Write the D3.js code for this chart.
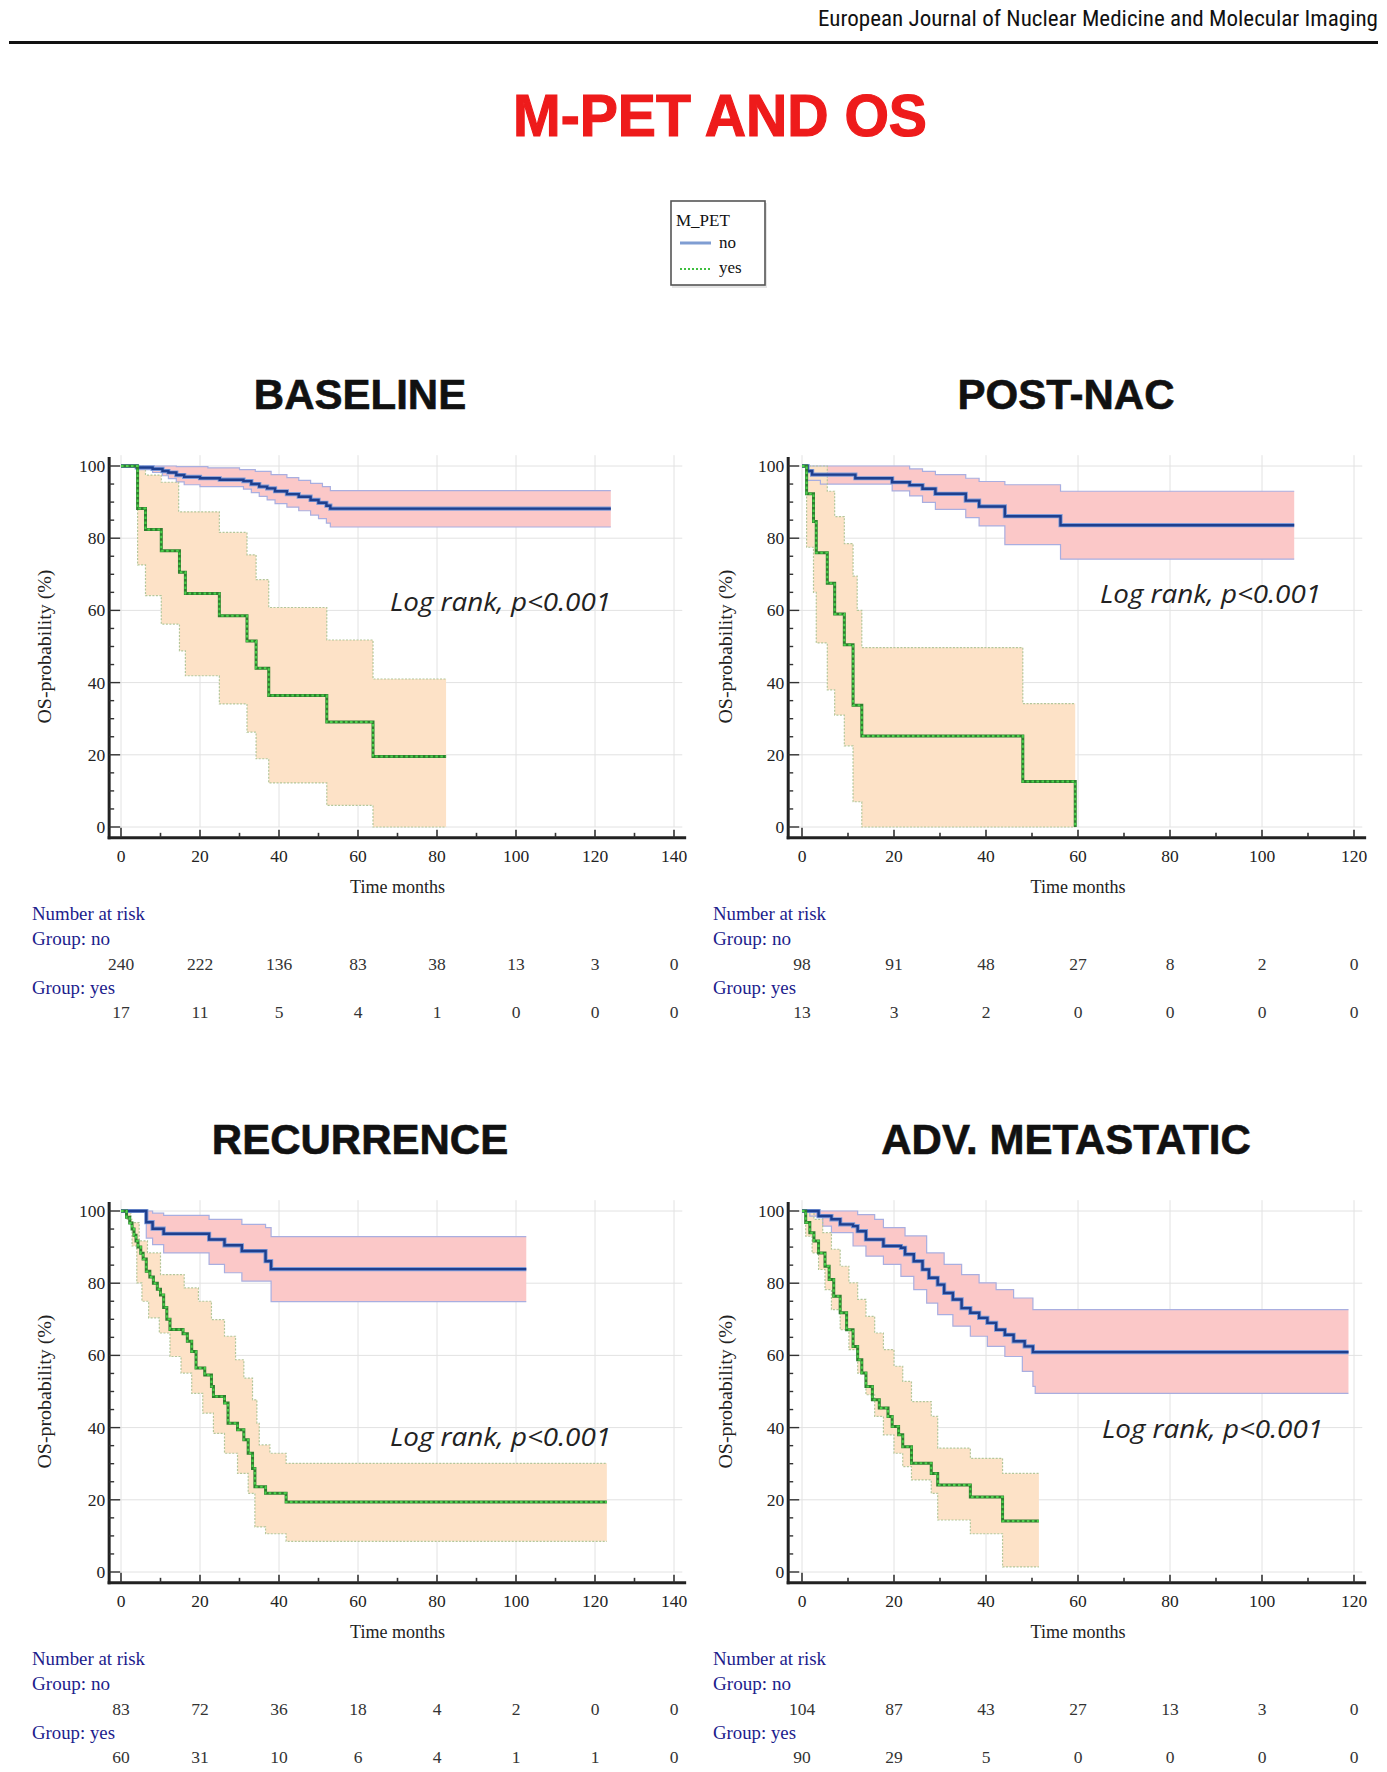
<!DOCTYPE html>
<html><head><meta charset="utf-8">
<script src="https://cdn.jsdelivr.net/npm/d3@7"></script>
<style>body{margin:0;background:#fff} svg{display:block}</style>
</head><body>
<svg id="c" width="1387" height="1772"></svg>
<script>
// ---------------- DATA ----------------
const panelTitles = ["BASELINE", "POST-NAC", "RECURRENCE", "ADV. METASTATIC"];
const xTicksWide = [0, 20, 40, 60, 80, 100, 120, 140];
const xTicksNarrow = [0, 20, 40, 60, 80, 100, 120];
const yTicks = [0, 20, 40, 60, 80, 100];
const groupNames = ["no", "yes"];

// Kaplan-Meier steps: [months, OS %]
const baselineNo = [[0,100],[4,99.6],[8,99.2],[10.5,98.6],[12,98.2],[14,97.5],[16,97],[20,96.6],[25,96.2],[31,95.8],[33,95],[35,94.3],[37,93.8],[39,93],[42,92.2],[45,91.5],[48,90.6],[50,89.8],[52,89],[53,88.2],[124,88.2]];
const baselineNoUpper = [[0,100],[14,99.8],[22,99.5],[30,99],[34,98.5],[38,97.6],[42,96.8],[45,96],[48,95.2],[51,94.3],[53,93.2],[124,93.2]];
const baselineNoLower = [[0,100],[4,99],[8,98.2],[10.5,97.3],[12,96.5],[14,95.6],[16,94.8],[20,94.3],[31,93.6],[33,92.6],[35,91.6],[37,90.6],[39,89.6],[42,88.6],[45,87.6],[48,86.4],[50,85.4],[52,84.2],[53,83.1],[124,83.1]];
const baselineYes = [[0,100],[4.2,88.2],[6.2,82.4],[10.2,76.5],[14.8,70.6],[16.3,64.7],[24.9,58.5],[31.9,51.5],[34.2,44],[37.4,36.4],[52.1,29.1],[63.8,19.5],[82.3,19.5]];
const baselineYesUpper = [[0,100],[6.2,97.5],[10.2,95.5],[14.6,87.3],[24.9,81.6],[31.9,75.4],[34.2,68.5],[37.4,60.8],[52.1,51.8],[63.8,41],[82.3,41]];
const baselineYesLower = [[0,100],[4.2,72.6],[6.2,64.1],[10.2,56.2],[14.8,48.8],[16.3,41.9],[24.9,34.1],[31.9,26.3],[34.2,18.9],[37.4,12.2],[52.1,6],[63.8,0],[82.3,0]];

const postNo = [[0,100],[1.2,98.6],[2.2,97.6],[11.6,96.6],[19.6,95.5],[23.4,94.7],[26.2,93.7],[29,92.3],[35.6,90.4],[38.5,88.8],[44.1,86.1],[56.2,83.6],[107,83.6]];
const postNoUpper = [[0,100],[23.4,99.2],[26.2,98.5],[29,97.6],[35.6,96.6],[38.5,95.7],[44.1,94.8],[56.2,93],[107,93]];
const postNoLower = [[0,100],[1.2,96],[4,95],[19.6,93.1],[23.4,91.7],[26.2,89.9],[29,88],[35.6,85.7],[38.5,83.4],[44.1,78.2],[56.2,74.2],[107,74.2]];
const postYes = [[0,100],[1,92.3],[2.5,84.6],[3.1,76],[5.5,67.5],[7.1,59],[9.2,50.5],[11.1,33.7],[13,25.2],[48,12.6],[59.4,0]];
const postYesUpper = [[0,100],[5.5,93],[7.1,86],[9.2,78.5],[11.1,69.5],[12,60],[13,49.7],[48,34.2],[59.4,34.2]];
const postYesLower = [[0,100],[1,77.5],[2.5,65],[3.1,51],[5.5,38],[7.1,31],[9.2,22.5],[11.1,7],[13,0],[59.4,0]];

const recNo = [[0,100],[6.4,96.9],[8,95.1],[10.8,93.7],[22.3,92.1],[26.2,90.5],[30.6,88.9],[36.6,86.1],[38,83.9],[102.6,83.9]];
const recNoUpper = [[0,100],[8,99.4],[10.8,98.8],[22.3,97.7],[30.6,96.3],[36.6,95.4],[38,92.9],[102.6,92.9]];
const recNoLower = [[0,100],[6.4,92.5],[8,90.7],[10.8,88.4],[22.3,85.2],[26.2,82.9],[30.6,80.6],[38,74.9],[102.6,74.9]];
const recYes = [[0,100],[1.4,98.3],[2.2,96.7],[2.8,95],[3.3,93.3],[3.8,91.7],[4.3,90],[5,88.3],[5.6,86.7],[6.4,83.3],[7.3,81.7],[8.2,80],[9.2,78.3],[10,76.7],[10.8,73.3],[11.6,70],[12.4,67.2],[15.7,66],[16.8,63.9],[17.9,61.1],[19,56.5],[21.2,54.6],[22.9,51.4],[23.4,48.6],[26.2,46.8],[27.1,41.2],[29.5,39.4],[31.1,36.6],[32.2,32.9],[33.3,28.7],[33.9,23.6],[36.6,21.8],[41.8,19.4],[123,19.4]];
const recYesUpper = [[0,100],[2.5,96.8],[4.6,91.7],[6.7,88.4],[10,82.4],[16,78.7],[19.6,75],[22.9,69.9],[26.2,65.3],[29,58.8],[31.1,53.7],[33.3,47.7],[34.4,41.2],[35,35.2],[37.7,32.9],[41.8,30.1],[123,30.1]];
const recYesLower = [[0,100],[1.4,97.7],[2.8,90.3],[4,80.1],[5.3,75],[7,70.4],[9.7,66.2],[12.4,59.7],[15.2,55.1],[17.9,49.5],[20.7,44],[23.4,38.4],[26.2,32.9],[29.5,27.3],[32.2,21.8],[33.9,12.5],[36.6,10.6],[41.8,8.5],[123,8.5]];

const advNo = [[0,100],[3.6,98.6],[6.4,97.7],[8.3,96.3],[11.1,95.8],[12.1,94.4],[13.9,92.1],[17.7,90.3],[21.5,89.8],[22.4,88],[24.3,86.1],[26.2,83.8],[27.6,81.5],[29.5,79.6],[30.9,77.3],[32.8,75.5],[34.7,73.1],[36.6,71.8],[38.5,70.4],[40.3,69],[42.2,67.1],[44.1,65.7],[46,63.9],[48.4,62.5],[50.2,60.9],[118.8,60.9]];
const advNoUpper = [[0,100],[12.1,99],[15.8,97.7],[17.7,95.4],[22.4,93.1],[27.1,88.4],[30.9,85.2],[34.7,82.4],[38.5,80.1],[42.2,78.2],[46,75.9],[50.2,72.7],[118.8,72.7]];
const advNoLower = [[0,100],[1.7,98.6],[4.5,95.8],[6.4,94],[11.1,90.3],[13.9,87.5],[17.7,85.2],[21.5,81.9],[24.3,78.2],[27.1,74.5],[29.5,71.3],[32.8,68.1],[36.6,65.3],[40.3,62.5],[44.1,59.7],[47.9,55.6],[50.2,51.4],[50.7,49.5],[118.8,49.5]];
const advYes = [[0,100],[0.8,96.8],[1.7,94],[2.6,91.7],[3.6,88.4],[5,84.7],[5.9,81],[6.9,76.4],[8.3,71.8],[9.7,67.1],[11.1,62.5],[12.1,58.8],[13,55.1],[13.9,51.4],[15.3,47.7],[16.8,45.4],[18.7,43.1],[19.6,40.3],[21,38],[21.9,34.7],[23.8,30.1],[28.1,27.3],[29.5,24.1],[36.6,20.8],[43.6,14.1],[51.5,14.1]];
const advYesUpper = [[0,100],[2.6,97.7],[4.5,94],[6.4,89.4],[8.3,84.7],[10.2,80.1],[12.1,75.5],[13.9,70.8],[15.8,66.2],[17.7,61.6],[20,57],[21.9,52.8],[23.8,47.2],[28.1,43.1],[29.5,34.3],[36.6,31.5],[43.6,27.3],[51.5,27.3]];
const advYesLower = [[0,100],[0.8,93],[2.2,88.4],[3.6,83.8],[5,78.2],[6.4,72.7],[8.3,67.1],[10.2,61.6],[12.1,55.1],[13.9,49.1],[15.8,43.1],[17.7,38],[20,32.9],[21.9,29.2],[23.8,25.5],[28.1,21.8],[29.5,14.4],[36.6,10.6],[43.6,1.4],[51.5,1.4]];

// Number at risk
const riskBaselineNo = [240,222,136,83,38,13,3,0];
const riskBaselineYes = [17,11,5,4,1,0,0,0];
const riskPostNo = [98,91,48,27,8,2,0];
const riskPostYes = [13,3,2,0,0,0,0];
const riskRecNo = [83,72,36,18,4,2,0,0];
const riskRecYes = [60,31,10,6,4,1,1,0];
const riskAdvNo = [104,87,43,27,13,3,0];
const riskAdvYes = [90,29,5,0,0,0,0];

// ---------------- BUILD ----------------
const panels = [
  {title: panelTitles[0], ticks: xTicksWide, no: baselineNo, noU: baselineNoUpper, noL: baselineNoLower, yes: baselineYes, yesU: baselineYesUpper, yesL: baselineYesLower, rNo: riskBaselineNo, rYes: riskBaselineYes},
  {title: panelTitles[1], ticks: xTicksNarrow, no: postNo, noU: postNoUpper, noL: postNoLower, yes: postYes, yesU: postYesUpper, yesL: postYesLower, rNo: riskPostNo, rYes: riskPostYes},
  {title: panelTitles[2], ticks: xTicksWide, no: recNo, noU: recNoUpper, noL: recNoLower, yes: recYes, yesU: recYesUpper, yesL: recYesLower, rNo: riskRecNo, rYes: riskRecYes},
  {title: panelTitles[3], ticks: xTicksNarrow, no: advNo, noU: advNoUpper, noL: advNoLower, yes: advYes, yesU: advYesUpper, yesL: advYesLower, rNo: riskAdvNo, rYes: riskAdvYes}
];
// layout (pixels)
const geo = [
  {px0: 121, px1: 674, pyTop: 466, pyBot: 827, dy: 0, left: 32, title: 360, logX: 390, logY: 611},
  {px0: 802, px1: 1354, pyTop: 466, pyBot: 827, dy: 0, left: 713, title: 1066, logX: 1100, logY: 603},
  {px0: 121, px1: 674, pyTop: 1211, pyBot: 1572, dy: 745, left: 32, title: 360, logX: 390, logY: 1446},
  {px0: 802, px1: 1354, pyTop: 1211, pyBot: 1572, dy: 745, left: 713, title: 1066, logX: 1102, logY: 1438}
];

const svg = d3.select("#c");
const SERIF = "'Liberation Serif','DejaVu Serif',serif";
const SANS = "'Liberation Sans',Arial,sans-serif";

// header
svg.append("text").attr("x", 1378).attr("y", 26).attr("text-anchor", "end")
  .attr("font-family", "'Liberation Sans Narrow','Roboto Condensed'," + SANS).attr("font-size", 22)
  .attr("textLength", 560).attr("lengthAdjust", "spacingAndGlyphs").attr("fill", "#111")
  .text("European Journal of Nuclear Medicine and Molecular Imaging");
svg.append("rect").attr("x", 9).attr("y", 41).attr("width", 1369).attr("height", 3).attr("fill", "#111");

// main title
svg.append("text").attr("x", 720).attr("y", 136).attr("text-anchor", "middle")
  .attr("font-family", SANS).attr("font-weight", "bold").attr("font-size", 60)
  .attr("stroke", "#ee1b1b").attr("stroke-width", 1.2)
  .attr("textLength", 414).attr("lengthAdjust", "spacingAndGlyphs")
  .attr("fill", "#ee1b1b").text("M-PET AND OS");

// legend
const lg = svg.append("g");
lg.append("rect").attr("x", 672).attr("y", 203).attr("width", 95).attr("height", 85).attr("fill", "#e4e4e4");
lg.append("rect").attr("x", 671).attr("y", 201).attr("width", 94).attr("height", 84).attr("fill", "#fff").attr("stroke", "#555").attr("stroke-width", 1.6);
lg.append("text").attr("x", 676).attr("y", 226).attr("font-family", SERIF).attr("font-size", 17).attr("fill", "#111").text("M_PET");
lg.append("line").attr("x1", 680).attr("x2", 711).attr("y1", 243).attr("y2", 243).attr("stroke", "#7f9dd2").attr("stroke-width", 3);
lg.append("line").attr("x1", 680).attr("x2", 711).attr("y1", 269).attr("y2", 269).attr("stroke", "#3fbf3f").attr("stroke-width", 2).attr("stroke-dasharray", "2,2");
lg.append("text").attr("x", 719).attr("y", 248).attr("font-family", SERIF).attr("font-size", 17).attr("fill", "#111").text(groupNames[0]);
lg.append("text").attr("x", 719).attr("y", 273).attr("font-family", SERIF).attr("font-size", 17).attr("fill", "#111").text(groupNames[1]);

function stepVal(arr, t) {
  let v = arr[0][1];
  for (const [ti, vi] of arr) { if (ti <= t) v = vi; else break; }
  return v;
}
function band(up, lo) {
  const end = Math.max(up[up.length - 1][0], lo[lo.length - 1][0]);
  const ts = Array.from(new Set(up.map(d => d[0]).concat(lo.map(d => d[0])))).filter(t => t <= end).sort((a, b) => a - b);
  return ts.map(t => ({t, u: stepVal(up, t), l: stepVal(lo, t)}));
}

panels.forEach((p, i) => {
  const g = geo[i];
  const xMax = p.ticks[p.ticks.length - 1];
  const x = d3.scaleLinear().domain([0, xMax]).range([g.px0, g.px1]);
  const y = d3.scaleLinear().domain([0, 100]).range([g.pyBot, g.pyTop]);
  const axL = x(-3);
  const axB = y(-3);
  const gr = svg.append("g");

  // panel title
  gr.append("text").attr("x", g.title).attr("y", 409 + g.dy).attr("text-anchor", "middle")
    .attr("font-family", SANS).attr("font-weight", "bold").attr("font-size", 42).attr("fill", "#111")
    .attr("stroke", "#111").attr("stroke-width", 0.6)
    .text(p.title);

  // grid
  gr.selectAll(".gv").data(p.ticks).join("line")
    .attr("x1", d => x(d)).attr("x2", d => x(d)).attr("y1", y(103)).attr("y2", y(0))
    .attr("stroke", "#e2e2e2").attr("stroke-width", 1);
  gr.selectAll(".gh").data(yTicks).join("line")
    .attr("x1", axL).attr("x2", x(xMax * 1.015)).attr("y1", d => y(d)).attr("y2", d => y(d))
    .attr("stroke", "#e2e2e2").attr("stroke-width", 1);

  // CI bands
  const area = d3.area().curve(d3.curveStepAfter).x(d => x(d.t)).y0(d => y(d.l)).y1(d => y(d.u));
  const line = d3.line().curve(d3.curveStepAfter).x(d => x(d[0])).y(d => y(d[1]));
  gr.append("path").attr("d", area(band(p.noU, p.noL))).attr("fill", "#fbc8c8");
  gr.append("path").attr("d", area(band(p.yesU, p.yesL))).attr("fill", "#fde2c7");
  [p.noU, p.noL].forEach(b => gr.append("path").attr("d", line(b)).attr("fill", "none").attr("stroke", "#a9aee0").attr("stroke-width", 1.2));
  [p.yesU, p.yesL].forEach(b => gr.append("path").attr("d", line(b)).attr("fill", "none").attr("stroke", "#b3c79a").attr("stroke-width", 1.2).attr("stroke-dasharray", "2,1.5"));

  // curves
  gr.append("path").attr("d", line(p.no)).attr("fill", "none").attr("stroke", "#7d9ad8").attr("stroke-width", 4.2);
  gr.append("path").attr("d", line(p.no)).attr("fill", "none").attr("stroke", "#1e3f8e").attr("stroke-width", 2.4);
  gr.append("path").attr("d", line(p.yes)).attr("fill", "none").attr("stroke", "#2f7f2f").attr("stroke-width", 3);
  gr.append("path").attr("d", line(p.yes)).attr("fill", "none").attr("stroke", "#4cd24c").attr("stroke-width", 2).attr("stroke-dasharray", "2.5,2.5");

  // axes
  gr.append("line").attr("x1", axL).attr("x2", axL).attr("y1", y(102.5)).attr("y2", axB + 1.5).attr("stroke", "#222").attr("stroke-width", 3);
  gr.append("line").attr("x1", axL - 1.5).attr("x2", x(xMax * 1.022)).attr("y1", axB).attr("y2", axB).attr("stroke", "#222").attr("stroke-width", 3);
  const yMinor = d3.range(0, 101, 5);
  gr.selectAll(".yt").data(yMinor).join("line")
    .attr("x1", axL).attr("x2", d => axL + (d % 20 === 0 ? 11 : 5))
    .attr("y1", d => y(d)).attr("y2", d => y(d)).attr("stroke", "#333").attr("stroke-width", 1.4);
  const xMinor = d3.range(0, xMax + 1, 10);
  gr.selectAll(".xt").data(xMinor).join("line")
    .attr("x1", d => x(d)).attr("x2", d => x(d))
    .attr("y1", axB).attr("y2", d => axB - (d % 20 === 0 ? (d === 0 ? 10 : 8) : 5))
    .attr("stroke", "#333").attr("stroke-width", 1.6);

  // tick labels
  gr.selectAll(".yl").data(yTicks).join("text")
    .attr("x", axL - 4).attr("y", d => y(d) + 6).attr("text-anchor", "end")
    .attr("font-family", SERIF).attr("font-size", 17.5).attr("fill", "#222").text(d => d);
  gr.selectAll(".xl").data(p.ticks).join("text")
    .attr("x", d => x(d)).attr("y", 862 + g.dy).attr("text-anchor", "middle")
    .attr("font-family", SERIF).attr("font-size", 17.5).attr("fill", "#222").text(d => d);

  gr.append("text").attr("x", (x(0) + x(xMax)) / 2).attr("y", 893 + g.dy).attr("text-anchor", "middle")
    .attr("font-family", SERIF).attr("font-size", 18).attr("fill", "#222")
    .attr("textLength", 95).attr("lengthAdjust", "spacingAndGlyphs").text("Time months");
  gr.append("text").attr("transform", `translate(${g.left + 19},${(g.pyTop + g.pyBot) / 2}) rotate(-90)`)
    .attr("text-anchor", "middle").attr("font-family", SERIF).attr("font-size", 18).attr("fill", "#222")
    .attr("textLength", 154).attr("lengthAdjust", "spacingAndGlyphs")
    .text("OS-probability (%)");

  // log-rank
  gr.append("text").attr("x", g.logX).attr("y", g.logY)
    .attr("font-family", "'Open Sans','Noto Sans',sans-serif").attr("font-style", "italic").attr("font-size", 26)
    .attr("textLength", 221).attr("lengthAdjust", "spacingAndGlyphs").attr("fill", "#222")
    .text("Log rank, p<0.001");

  // number at risk
  const nav = "#1c1c8c";
  gr.append("text").attr("x", g.left).attr("y", 920 + g.dy).attr("font-family", SERIF).attr("font-size", 18.5).attr("fill", nav)
    .attr("textLength", 113).attr("lengthAdjust", "spacingAndGlyphs").text("Number at risk");
  gr.append("text").attr("x", g.left).attr("y", 945 + g.dy).attr("font-family", SERIF).attr("font-size", 18.5).attr("fill", nav)
    .attr("textLength", 78).attr("lengthAdjust", "spacingAndGlyphs").text("Group: " + groupNames[0]);
  gr.append("text").attr("x", g.left).attr("y", 994 + g.dy).attr("font-family", SERIF).attr("font-size", 18.5).attr("fill", nav)
    .attr("textLength", 83).attr("lengthAdjust", "spacingAndGlyphs").text("Group: " + groupNames[1]);
  gr.selectAll(".rn").data(p.rNo).join("text")
    .attr("x", (d, j) => x(p.ticks[j])).attr("y", 970 + g.dy).attr("text-anchor", "middle")
    .attr("font-family", SERIF).attr("font-size", 17.5).attr("fill", "#333").text(d => d);
  gr.selectAll(".ry").data(p.rYes).join("text")
    .attr("x", (d, j) => x(p.ticks[j])).attr("y", 1018 + g.dy).attr("text-anchor", "middle")
    .attr("font-family", SERIF).attr("font-size", 17.5).attr("fill", "#333").text(d => d);
});
</script>
</body></html>
